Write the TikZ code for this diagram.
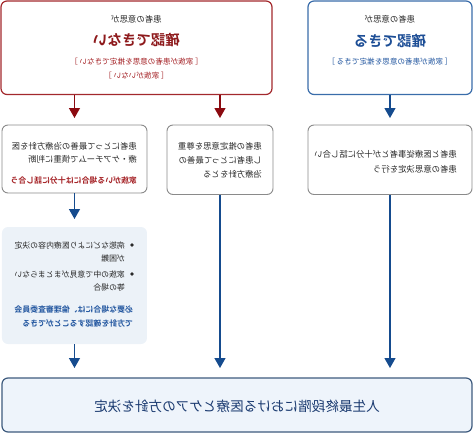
\documentclass[tikz,border=0pt]{standalone}
\usepackage{fontspec}
\setmainfont{Noto Sans CJK JP}[BoldFont={Noto Sans CJK JP Bold}]
\usetikzlibrary{arrows.meta}
\definecolor{redb}{HTML}{A3292D}
\definecolor{redh}{HTML}{8E1A1C}
\definecolor{redt}{HTML}{A52226}
\definecolor{reda}{HTML}{8B0A10}
\definecolor{blueb}{HTML}{3A6DAA}
\definecolor{blueh}{HTML}{1D4E96}
\definecolor{bluet}{HTML}{2357A0}
\definecolor{bluea}{HTML}{154B8E}
\definecolor{grayb}{HTML}{8A8A8A}
\definecolor{notefill}{HTML}{ECF2F8}
\definecolor{endfill}{HTML}{EEF4FB}
\definecolor{endb}{HTML}{3E5B7E}
\definecolor{endt}{HTML}{1A3A70}
\definecolor{txt}{HTML}{2A2A2A}
\begin{document}
\begin{tikzpicture}[x=1pt,y=-1pt,xscale=-1,
  every node/.append style={transform shape, inner sep=0pt, outer sep=0pt},
  redbox/.style={draw=redb, line width=1.2pt, fill=white, rounded corners=6pt},
  bluebox/.style={draw=blueb, line width=1.2pt, fill=white, rounded corners=6pt},
  graybox/.style={draw=grayb, line width=0.9pt, fill=white, rounded corners=6pt},
  notebox/.style={fill=notefill, rounded corners=6pt},
  endbox/.style={draw=endb, line width=1.2pt, fill=endfill, rounded corners=6pt},
  small/.style={font=\fontsize{8.4}{10}\selectfont, text=txt},
  body/.style={font=\fontsize{8.4}{10}\selectfont, text=txt, anchor=west},
  note/.style={font=\fontsize{7.9}{10}\selectfont, text=txt, anchor=west},
  head/.style={font=\fontsize{14.5}{16}\selectfont\bfseries},
  brk/.style={font=\fontsize{7.6}{9}\selectfont},
  rarr/.style={draw=reda, line width=1.3pt, -{Triangle[width=11pt,length=10pt]}, shorten >=7pt},
  barr/.style={draw=bluea, line width=1.3pt, -{Triangle[width=11pt,length=10pt]}},
]
\useasboundingbox (0,0) rectangle (474,434);

% top boxes
\node[redbox, minimum width=271pt, minimum height=93.5pt] (red) at (337.5,47.75) {};
\node[bluebox, minimum width=164pt, minimum height=93.5pt] (blue) at (84,47.75) {};

\node[small] (r1) at (337.5,19) {患者の意思が};
\node[head, text=redh] (r2) at (337.5,40) {確認できない};
\node[brk, text=redt] (r3) at (337.5,62) {［ 家族が患者の意思を推定できない ］};
\node[brk, text=redt] (r4) at (337.5,75.5) {［ 家族がいない ］};

\node[small] (b1) at (84,19) {患者の意思が};
\node[head, text=blueh] (b2) at (84,41) {確認できる};
\node[brk, text=bluet] (b3) at (84,62) {［ 家族が患者の意思を推定できる ］};

% middle boxes
\node[graybox, minimum width=164pt, minimum height=69.5pt] (bc) at (84,159.75) {};
\node[graybox, minimum width=106pt, minimum height=69.5pt] (bb) at (254,159.75) {};
\node[graybox, minimum width=145pt, minimum height=68pt] (ba) at (399.5,159) {};

\node[body] (c1) at (17,154) {患者と医療従事者とが十分に話し合い};
\node[body] (c2) at (17,169) {患者の意思決定を行う};

\node[body] (m1) at (212,146) {患者の推定意思を尊重};
\node[body] (m2) at (212,160) {し患者にとって最善の};
\node[body] (m3) at (212,174) {治療方針をとる};

\node[body] (a1) at (337,146) {患者にとって最善の治療方針を医};
\node[body] (a2) at (337,159.5) {療・ケアチームで慎重に判断};
\node[note, text=redt, font=\fontsize{7.9}{10}\selectfont\bfseries] (a3) at (337,180) {家族がいる場合には十分に話し合う};

% note box
\node[notebox, minimum width=145pt, minimum height=117pt] (nb) at (399.5,285.5) {};
\node[circle, fill=txt, minimum size=3.6pt] (d1) at (342,245) {};
\node[note] (n1) at (349,245) {病態などにより医療内容の決定};
\node[note] (n2) at (349,258) {が困難};
\node[circle, fill=txt, minimum size=3.6pt] (d2) at (342,274) {};
\node[note] (n3) at (349,274) {家族の中で意見がまとまらない};
\node[note] (n4) at (349,287) {等の場合};
\node[note, text=bluet, font=\fontsize{7.9}{10}\selectfont\bfseries] (n5) at (341,310) {必要な場合には、倫理審査委員会};
\node[note, text=bluet, font=\fontsize{7.9}{10}\selectfont\bfseries] (n6) at (341,323.5) {で方針を確認することができる};

% bottom box
\node[endbox, minimum width=470pt, minimum height=54pt] (end) at (237,405) {};
\node[font=\fontsize{13.6}{15}\selectfont, text=endt] (e1) at (237,406) {人生最終段階における医療とケアの方針を決定};

% arrows
\draw[rarr] (bb.north |- red.south) -- (bb.north);
\draw[rarr] (ba.north |- red.south) -- (ba.north);
\draw[barr, shorten >=7pt] (bc.north |- blue.south) -- (bc.north);
\draw[barr, shorten >=8pt] (ba.south) -- (nb.north);
\draw[barr, shorten >=10pt] (nb.south) -- (end.north -| nb.south);
\draw[barr, shorten >=10pt] (bb.south) -- (end.north -| bb.south);
\draw[barr, shorten >=10pt] (bc.south) -- (end.north -| bc.south);
\end{tikzpicture}
\end{document}
